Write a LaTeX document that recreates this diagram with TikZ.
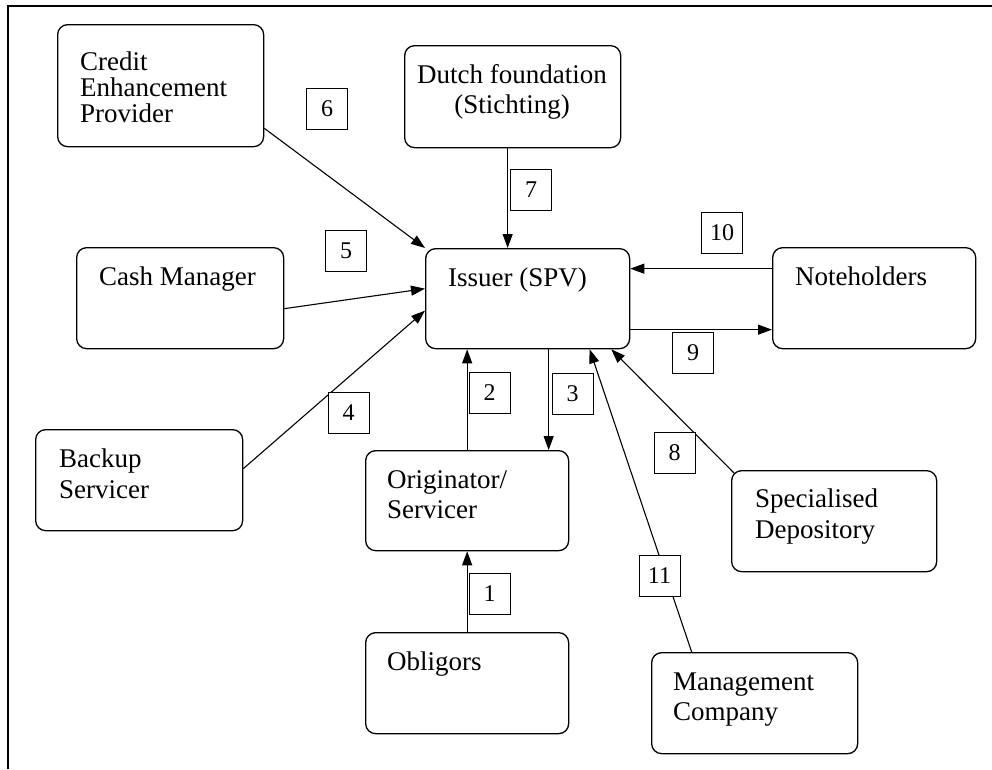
\documentclass[tikz,border=0pt]{standalone}
\usepackage{fontspec}
\setmainfont{Liberation Serif}
\usetikzlibrary{arrows.meta}
\begin{document}
\begin{tikzpicture}[x=1pt,y=-1pt,
  box/.style={draw, line width=1.3pt, rounded corners=10pt, inner sep=0pt, anchor=north west},
  txt/.style={inner sep=0pt, font=\fontsize{27}{30}\selectfont, align=left, anchor=north west},
  lbl/.style={draw, line width=0.8pt, fill=white, minimum width=41pt, minimum height=41pt, inner sep=0pt, font=\fontsize{24}{24}\selectfont},
  arr/.style={line width=1.1pt, -{Triangle[length=14pt,width=10pt]}}]
\useasboundingbox (0,0) rectangle (992,769);
\draw[line width=1.2pt] (8,769) -- (8,6) -- (992,6);

% boxes
\node[box, minimum width=206pt, minimum height=122pt] (credit) at (57,24) {};
\node[box, minimum width=216pt, minimum height=102pt] (dutch) at (404,45) {};
\node[box, minimum width=207pt, minimum height=101pt] (cash) at (76,247) {};
\node[box, minimum width=204pt, minimum height=100pt] (issuer) at (425,248) {};
\node[box, minimum width=203pt, minimum height=101pt] (note) at (772,247) {};
\node[box, minimum width=207pt, minimum height=101pt] (backup) at (35,429) {};
\node[box, minimum width=203pt, minimum height=100pt] (orig) at (365,450) {};
\node[box, minimum width=203pt, minimum height=101pt] (oblig) at (365,632) {};
\node[box, minimum width=205pt, minimum height=101pt] (spec) at (731,470) {};
\node[box, minimum width=206pt, minimum height=101pt] (mgmt) at (651,652) {};

% texts
\node[txt, font=\fontsize{27}{26}\selectfont] (creditT) at (80,50) {\rule{0pt}{20pt}Credit\\Enhancement\\Provider};
\node[txt, align=center, anchor=north] (dutchT) at (512,63) {\rule{0pt}{20pt}Dutch foundation\\(Stichting)};
\node[txt] (cashT) at (99,265) {\rule{0pt}{20pt}Cash Manager};
\node[txt] (issuerT) at (448,266) {\rule{0pt}{20pt}Issuer (SPV)};
\node[txt] (noteT) at (795,265) {\rule{0pt}{20pt}Noteholders};
\node[txt, font=\fontsize{27}{31}\selectfont] (backupT) at (59,447) {\rule{0pt}{20pt}Backup\\Servicer};
\node[txt] (origT) at (387,468) {\rule{0pt}{20pt}Originator/\\Servicer};
\node[txt] (obligT) at (387,650) {\rule{0pt}{20pt}Obligors};
\node[txt, font=\fontsize{27}{31}\selectfont] (specT) at (755,487) {\rule{0pt}{20pt}Specialised\\Depository};
\node[txt] (mgmtT) at (673,670) {\rule{0pt}{20pt}Management\\Company};

% connectors
\draw[arr] ([yshift=19pt]credit.south east) -- (issuer.north west);
\draw[arr] ([xshift=-5pt]dutch.south) -- ([xshift=-5pt]dutch.south |- issuer.north);
\draw[arr] ([yshift=-10.5pt]cash.east) -- ([yshift=10pt]issuer.west);
\draw[arr] ([yshift=11.5pt]backup.east) -- ([yshift=-12pt]issuer.west);
\draw[arr] ([yshift=29.5pt]note.west) -- ([yshift=29.5pt]note.west -| issuer.east);
\draw[arr] ([yshift=-31pt]issuer.east) -- ([yshift=-31pt]issuer.east -| note.west);
\draw[arr] (orig.north) -- (orig.north |- issuer.south);
\draw[arr] ([xshift=21pt]issuer.south) -- ([xshift=21pt]issuer.south |- orig.north);
\draw[arr] (oblig.north) -- (oblig.north |- orig.south);
\draw[arr] ([xshift=3pt,yshift=-3pt]spec.north west) -- ([xshift=-19pt]issuer.south east);
\draw[arr] ([xshift=-63pt]mgmt.north) -- ([xshift=62pt]issuer.south);

% number labels
\node[lbl] (l6) at (327,109) {6};
\node[lbl] (l7) at (531,189.5) {7};
\node[lbl] (l5) at (346,250.5) {5};
\node[lbl] (l10) at (722,232.5) {10};
\node[lbl] (l4) at (348.5,412.5) {4};
\node[lbl] (l2) at (489.5,392.5) {2};
\node[lbl] (l3) at (572.5,393.5) {3};
\node[lbl] (l9) at (693,353) {9};
\node[lbl] (l8) at (674.5,452.5) {8};
\node[lbl] (l1) at (489.5,594) {1};
\node[lbl] (l11) at (659.5,575.5) {11};
\end{tikzpicture}
\end{document}
